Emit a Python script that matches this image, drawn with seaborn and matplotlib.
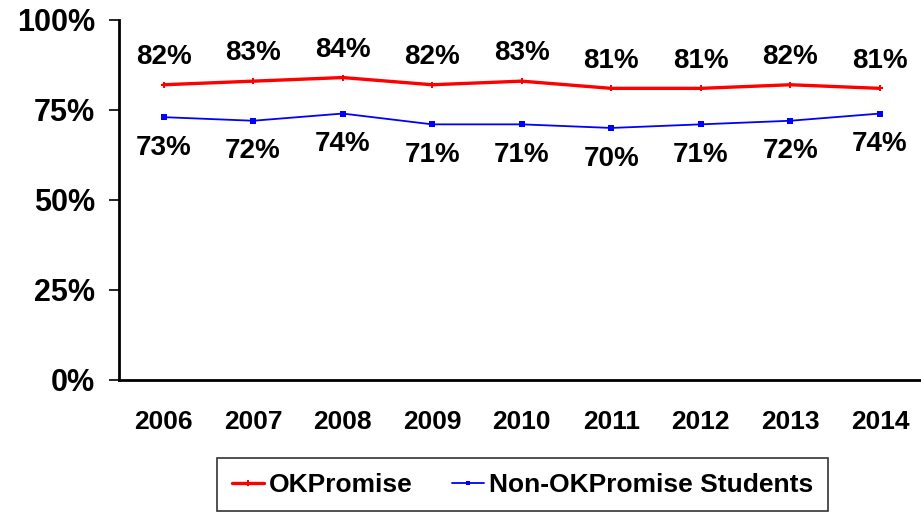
import matplotlib
matplotlib.use("Agg")
import matplotlib.pyplot as plt
import pandas as pd
import seaborn as sns

years = ["2006", "2007", "2008", "2009", "2010", "2011", "2012", "2013", "2014"]
ok_promise = [82, 83, 84, 82, 83, 81, 81, 82, 81]
non_ok_promise = [73, 72, 74, 71, 71, 70, 71, 72, 74]
series_names = ["OKPromise", "Non-OKPromise Students"]
y_ticks = [0, 25, 50, 75, 100]

sns.set_style("white")
plt.rcParams["font.family"] = ["Liberation Sans", "DejaVu Sans"]
plt.rcParams["text.color"] = "black"
plt.rcParams["xtick.color"] = "black"
plt.rcParams["ytick.color"] = "black"

df = pd.DataFrame({
    "pos": list(range(len(years))) * 2,
    "value": ok_promise + non_ok_promise,
    "series": [series_names[0]] * len(years) + [series_names[1]] * len(years),
})

fig = plt.figure(figsize=(9.21, 5.12), dpi=100)
ax = fig.add_axes([0.129, 0.258, 0.875, 0.703])

sns.lineplot(
    data=df, x="pos", y="value", hue="series", style="series",
    palette={series_names[0]: "#ff0000", series_names[1]: "#0000ff"},
    markers={series_names[0]: "P", series_names[1]: "s"},
    dashes=False, ax=ax, legend=False,
)
ax.lines[0].set_linewidth(2.4)
ax.lines[0].set_markersize(5)
ax.lines[1].set_linewidth(1.3)
ax.lines[1].set_markersize(4)
for ln in ax.lines:
    ln.set_markeredgewidth(0)

ax.set_xlim(-0.5, len(years) - 0.5)
ax.set_ylim(0, 100)
ax.set_yticks(y_ticks)
ax.set_yticklabels([f"{t}%" for t in y_ticks], fontsize=22, fontweight="bold")
ax.set_xticks(range(len(years)))
ax.set_xticklabels(years, fontsize=19, fontweight="bold")
ax.set_xticks([i - 0.5 for i in range(len(years) + 1)], minor=True)
ax.tick_params(axis="x", which="major", length=0, pad=22)
ax.tick_params(axis="x", which="minor", length=7, width=1.2, color="#444444")
ax.tick_params(axis="y", length=7, width=1.2, pad=10, left=True)
ax.set_xlabel("")
ax.set_ylabel("")

for side in ["top", "right"]:
    ax.spines[side].set_visible(False)
for side in ["left", "bottom"]:
    ax.spines[side].set_color("black")
    ax.spines[side].set_linewidth(2)

for i, v in enumerate(ok_promise):
    ax.annotate(f"{v}%", (i, v), xytext=(0, 20), textcoords="offset points",
                ha="center", va="center", fontsize=20, fontweight="bold")
for i, v in enumerate(non_ok_promise):
    ax.annotate(f"{v}%", (i, v), xytext=(0, -22), textcoords="offset points",
                ha="center", va="center", fontsize=20, fontweight="bold")

handles = [
    plt.Line2D([], [], color="#ff0000", lw=2.4, marker="P", ms=4, mew=0),
    plt.Line2D([], [], color="#0000ff", lw=1.3, marker="s", ms=3, mew=0),
]
leg = fig.legend(
    handles, series_names, loc="upper left", bbox_to_anchor=(0.236, 0.105),
    ncol=2, frameon=True, fancybox=False, prop={"weight": "bold", "size": 19},
    handlelength=1.2, handletextpad=0.2, columnspacing=1.5, borderpad=0.55,
    borderaxespad=0,
)
leg.get_frame().set_edgecolor("black")
leg.get_frame().set_linewidth(1.2)

plt.savefig("out.png", dpi=100)
